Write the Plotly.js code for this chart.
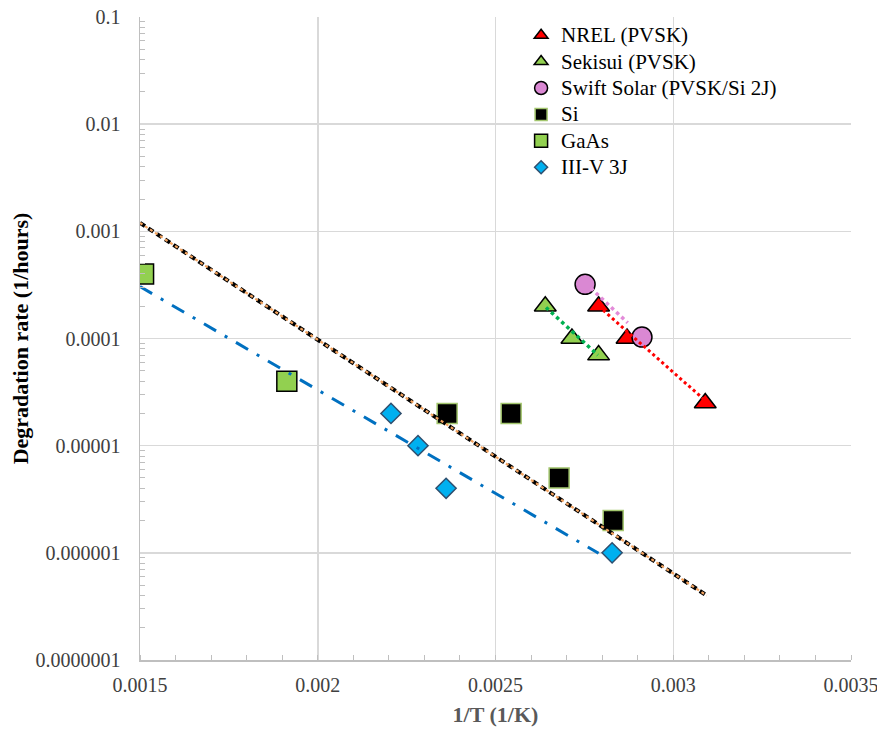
<!DOCTYPE html>
<html>
<head>
<meta charset="utf-8">
<script src="https://cdn.plot.ly/plotly-3.0.1.min.js"></script>
<style>html,body{margin:0;padding:0;background:#fff;}#chart{width:877px;height:729px;}</style>
</head>
<body>
<div id="chart"></div>
<script>
// ---- data ----
var seriesNames = ['NREL (PVSK)', 'Sekisui (PVSK)', 'Swift Solar (PVSK/Si 2J)', 'Si', 'GaAs', 'III-V 3J'];
var nrelX = [0.00279, 0.00287, 0.00309];
var nrelY = [2e-4, 1e-4, 2.5e-5];
var sekisuiX = [0.00264, 0.002715, 0.00279];
var sekisuiY = [2e-4, 1e-4, 7e-5];
var swiftX = [0.002752, 0.002912];
var swiftY = [3.2e-4, 1.03e-4];
var siX = [0.002364, 0.002544, 0.002679, 0.002831];
var siY = [2e-5, 2e-5, 5e-6, 2e-6];
var gaasX = [0.00151, 0.001913];
var gaasY = [4e-4, 4e-5];
var iiivX = [0.002206, 0.002282, 0.002361, 0.002828];
var iiivY = [2e-5, 1e-5, 4e-6, 1e-6];

// trendlines (endpoints)
var trendSiX = [0.0015, 0.003094];
var trendSiY = [1.2e-3, 4.0e-7];
var trendIIIVX = [0.0015, 0.00279];
var trendIIIVY = [3.05e-4, 9.9e-7];
var trendNrelX = [0.00279, 0.003092];
var trendNrelY = [2.0e-4, 2.6e-5];
var trendSekisuiX = [0.002642, 0.002788];
var trendSekisuiY = [1.95e-4, 7.0e-5];
var trendSwiftX = [0.002768, 0.002872];
var trendSwiftY = [2.95e-4, 1.4e-4];

// tick labels
var xTickVals = [0.0015, 0.002, 0.0025, 0.003, 0.0035];
var xTickText = ['0.0015', '0.002', '0.0025', '0.003', '0.0035'];
var yTickVals = [1e-7, 1e-6, 1e-5, 1e-4, 1e-3, 1e-2, 1e-1];
var yTickText = ['0.0000001', '0.000001', '0.00001', '0.0001', '0.001', '0.01', '0.1'];

// minor tick positions (axis decoration only)
var xMinor = [];
for (var i = 15; i <= 35; i++) xMinor.push(i / 10000);
var yMinor = [];
for (var e = -7; e < -1; e++) for (var m = 2; m <= 9; m++) yMinor.push(m * Math.pow(10, e));

var serif = 'Liberation Serif, Times New Roman, serif';
function lg(s) { return '<span style="font-size:21px">' + s + '</span>'; }

var styles = [
  {symbol: 'triangle-up', size: 19, lsize: 12, color: '#FF0000', line: '#000'},
  {symbol: 'triangle-up', size: 19, lsize: 12, color: '#92D050', line: '#000'},
  {symbol: 'circle', size: 20, lsize: 13, color: '#DA88D3', line: '#000'},
  {symbol: 'square', size: 20, lsize: 12, color: '#000000', line: '#A3C66E'},
  {symbol: 'square', size: 20, lsize: 13, color: '#92D050', line: '#000'},
  {symbol: 'diamond', size: 15.5, lsize: 10, color: '#00B0F0', line: '#2F4F6F'}
];
var xs = [nrelX, sekisuiX, swiftX, siX, gaasX, iiivX];
var ys = [nrelY, sekisuiY, swiftY, siY, gaasY, iiivY];

var traces = [];
// data markers
for (var k = 0; k < 6; k++) {
  traces.push({x: xs[k], y: ys[k], name: seriesNames[k], mode: 'markers', type: 'scatter', showlegend: false,
    marker: {symbol: styles[k].symbol, size: styles[k].size, color: styles[k].color, line: {color: styles[k].line, width: 1.5}}});
}
// trendlines drawn on top
traces.push(
  {x: trendSiX, y: trendSiY, mode: 'lines', type: 'scatter', showlegend: false, hoverinfo: 'skip',
   line: {color: '#000000', width: 4, dash: '6px,4px'}},
  {x: trendSiX, y: trendSiY, mode: 'lines', type: 'scatter', showlegend: false, hoverinfo: 'skip',
   line: {color: '#F4A460', width: 2.2, dash: 'dot'}},
  {x: trendIIIVX, y: trendIIIVY, mode: 'lines', type: 'scatter', showlegend: false, hoverinfo: 'skip',
   line: {color: '#0070C0', width: 3, dash: '14px,10px,3px,10px'}},
  {x: trendNrelX, y: trendNrelY, mode: 'lines', type: 'scatter', showlegend: false, hoverinfo: 'skip',
   line: {color: '#FF0000', width: 3, dash: 'dot'}},
  {x: trendSekisuiX, y: trendSekisuiY, mode: 'lines', type: 'scatter', showlegend: false, hoverinfo: 'skip',
   line: {color: '#00B050', width: 3.5, dash: 'dot'}},
  {x: trendSwiftX, y: trendSwiftY, mode: 'lines', type: 'scatter', showlegend: false, hoverinfo: 'skip',
   line: {color: '#E38BD9', width: 3.5, dash: 'dot'}}
);
// legend-only entries (smaller symbols, as in the reference legend)
for (var k2 = 0; k2 < 6; k2++) {
  traces.push({x: [null], y: [null], name: lg(seriesNames[k2]), mode: 'markers', type: 'scatter', hoverinfo: 'skip',
    marker: {symbol: styles[k2].symbol, size: styles[k2].lsize, color: styles[k2].color, line: {color: styles[k2].line, width: 1.5}}});
}

var layout = {
  width: 877, height: 729,
  margin: {l: 140, r: 26, t: 17, b: 69},
  paper_bgcolor: '#ffffff', plot_bgcolor: '#ffffff',
  font: {family: serif, color: '#404040', size: 20},
  showlegend: true,
  legend: {x: 0.536, y: 1.0, xanchor: 'left', yanchor: 'top', bgcolor: 'rgba(0,0,0,0)',
    font: {family: serif, size: 18, color: '#000'}, tracegroupgap: 0},
  xaxis: {
    type: 'linear', range: [0.0015, 0.0035],
    tickmode: 'array', tickvals: xTickVals, ticktext: xTickText,
    ticklabeloverflow: 'allow',
    showgrid: true, gridcolor: '#D9D9D9', gridwidth: 1.5,
    showline: true, linecolor: '#BFBFBF', linewidth: 1.5,
    ticks: '', zeroline: false,
    tickfont: {family: serif, size: 20, color: '#404040'},
    ticklabelstandoff: 6,
    minor: {tickmode: 'array', tickvals: xMinor, ticks: 'inside', ticklen: 5, tickcolor: '#BFBFBF', tickwidth: 1, showgrid: false},
    title: {text: '<b>1/T (1/K)</b>', font: {family: serif, size: 22, color: '#595959'}, standoff: 12}
  },
  yaxis: {
    type: 'log', range: [-7, -1],
    tickmode: 'array', tickvals: yTickVals, ticktext: yTickText,
    ticklabeloverflow: 'allow',
    showgrid: true, gridcolor: '#D9D9D9', gridwidth: 1.5,
    showline: true, linecolor: '#BFBFBF', linewidth: 1.5,
    ticks: '', zeroline: false,
    tickfont: {family: serif, size: 20, color: '#404040'},
    ticklabelstandoff: 14,
    minor: {tickmode: 'array', tickvals: yMinor, ticks: 'inside', ticklen: 5, tickcolor: '#BFBFBF', tickwidth: 1, showgrid: false},
    title: {text: '<b>Degradation rate (1/hours)</b>', font: {family: serif, size: 22, color: '#000'}, standoff: 1}
  }
};

Plotly.newPlot('chart', traces, layout, {displayModeBar: false, staticPlot: true});
</script>
</body>
</html>
